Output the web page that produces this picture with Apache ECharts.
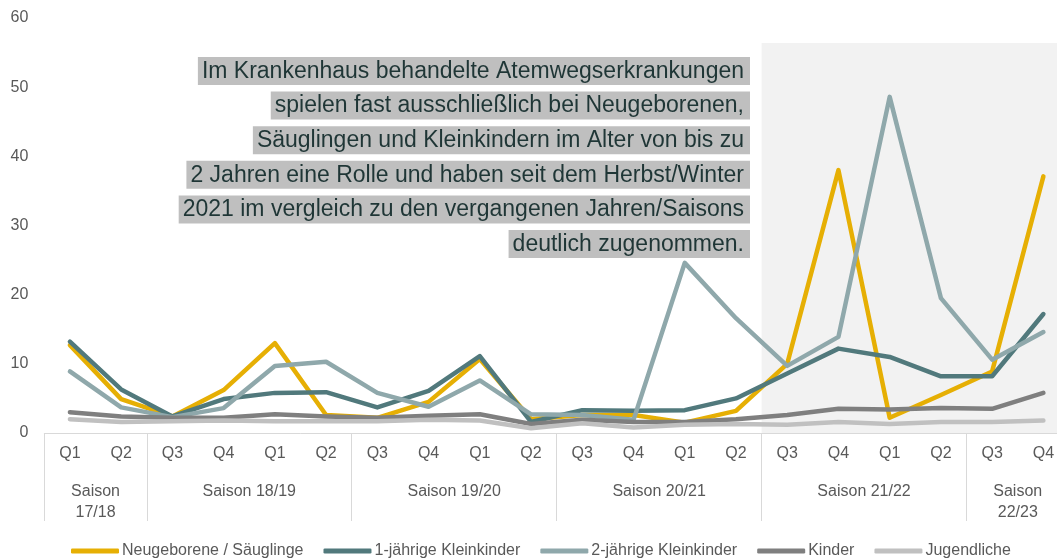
<!DOCTYPE html>
<html>
<head>
<meta charset="utf-8">
<script src="https://cdn.jsdelivr.net/npm/echarts@6/dist/echarts.min.js"></script>
<style>html,body{margin:0;padding:0;background:#fff;overflow:hidden}#c{width:1072px;height:560px}</style>
</head>
<body>
<div id="c"></div>
<script>
const quarters = ['Q1','Q2','Q3','Q4','Q1','Q2','Q3','Q4','Q1','Q2','Q3','Q4','Q1','Q2','Q3','Q4','Q1','Q2','Q3','Q4'];
// season label placed at the centre of its quarters (boundary index on a 0..20 scale)
const seasonPos = [1, 4, 8, 12, 16, 19];
const seasonNames = ['Saison\n17/18','Saison 18/19','Saison 19/20','Saison 20/21','Saison 21/22','Saison\n22/23'];
const seasonBounds = [0, 2, 6, 10, 14, 18];
const seriesNames = ['Neugeborene / Säuglinge','1-jährige Kleinkinder','2-jährige Kleinkinder','Kinder','Jugendliche'];
const neugeborene = [12.7, 4.9, 2.4, 6.2, 13.0, 2.6, 2.2, 4.5, 10.7, 2.0, 2.6, 2.6, 1.5, 3.2, 10.0, 38.0, 2.2, 5.5, 8.9, 37.1];
const einjaehrige = [13.2, 6.3, 2.4, 4.9, 5.8, 5.9, 3.7, 6.1, 11.1, 1.6, 3.3, 3.2, 3.3, 5.0, 8.6, 12.2, 11.0, 8.2, 8.2, 17.2];
const zweijaehrige = [8.9, 3.7, 2.3, 3.6, 9.7, 10.3, 5.8, 3.8, 7.6, 2.7, 2.6, 1.9, 24.6, 16.6, 9.7, 13.9, 48.6, 19.5, 10.6, 14.6];
const kinder = [3.0, 2.4, 2.2, 2.2, 2.7, 2.4, 2.2, 2.5, 2.7, 1.3, 1.9, 1.6, 1.6, 2.0, 2.6, 3.5, 3.4, 3.6, 3.5, 5.8];
const jugendliche = [2.0, 1.6, 1.7, 1.8, 1.7, 1.7, 1.7, 1.9, 1.8, 0.7, 1.4, 0.8, 1.2, 1.3, 1.2, 1.6, 1.3, 1.6, 1.6, 1.8];
const yTicks = [0, 10, 20, 30, 40, 50, 60];
const noteLines = [
  'Im Krankenhaus behandelte Atemwegserkrankungen',
  'spielen fast ausschließlich bei Neugeborenen,',
  'Säuglingen und Kleinkindern im Alter von bis zu',
  '2 Jahren eine Rolle und haben seit dem Herbst/Winter',
  '2021 im vergleich zu den vergangenen Jahren/Saisons',
  'deutlich zugenommen.'
];
const shadeFrom = 14, shadeTo = 20, shadeTop = 56.4;

const colors = ['#E6AF04', '#51797C', '#8FA8AB', '#7F7F7F', '#C0C0C0'];
const font = "'Liberation Sans', Arial, sans-serif";
const allData = [neugeborene, einjaehrige, zweijaehrige, kinder, jugendliche];
const W = 1072;

const chart = echarts.init(document.getElementById('c'), null, {renderer: 'canvas'});
const series = [{
  type: 'line', xAxisIndex: 1, yAxisIndex: 0, data: [], silent: true,
  markArea: {
    silent: true,
    itemStyle: {color: '#F2F2F2'},
    data: [[{coord: [shadeFrom, 0]}, {coord: [shadeTo, shadeTop]}]]
  }
}];
seriesNames.forEach((n, i) => {
  series.push({
    name: n, type: 'line', xAxisIndex: 0, data: allData[i],
    showSymbol: false, symbol: 'none',
    lineStyle: {color: colors[i], width: 4.5, cap: 'round', join: 'round'},
    itemStyle: {color: colors[i]},
    emphasis: {disabled: true}
  });
});

const graphics = noteLines.map((t, i) => ({
  type: 'text',
  right: W - 750,
  top: 57 + i * 34.6,
  style: {
    text: t, fill: '#1F3636', font: '23px ' + font,
    backgroundColor: '#BFBFBF', padding: [3, 6, 2, 4]
  },
  z: 10
}));

chart.setOption({
  animation: false,
  color: colors,
  grid: {left: 44.3, right: W - 1071.7, top: 18, bottom: 127, containLabel: false},
  xAxis: [{
    type: 'category', data: quarters, boundaryGap: true,
    axisLine: {lineStyle: {color: '#D9D9D9', width: 1}},
    axisTick: {show: true, length: 88, lineStyle: {color: '#D9D9D9', width: 1},
      interval: function (idx) { return seasonBounds.indexOf(idx) >= 0; }},
    axisLabel: {interval: 0, color: '#595959', fontSize: 16, fontFamily: font, margin: 13}
  }, {
    type: 'value', min: 0, max: 20, interval: 1, position: 'bottom',
    axisLine: {show: false}, axisTick: {show: false}, splitLine: {show: false},
    axisLabel: {
      color: '#595959', fontSize: 16, fontFamily: font, margin: 48, lineHeight: 21,
      showMinLabel: true, showMaxLabel: true,
      formatter: function (v) { const k = seasonPos.indexOf(v); return k >= 0 ? seasonNames[k] : ''; }
    }
  }],
  yAxis: {
    type: 'value', min: yTicks[0], max: yTicks[yTicks.length - 1], interval: 10,
    axisLine: {show: false}, axisTick: {show: false}, splitLine: {show: false},
    axisLabel: {color: '#595959', fontSize: 16, fontFamily: font, margin: 16}
  },
  legend: {
    data: seriesNames, top: 538, left: 66,
    icon: 'roundRect', itemWidth: 48, itemHeight: 5, itemGap: 20,
    textStyle: {color: '#595959', fontSize: 16, fontFamily: font, padding: [0, 0, 0, -2]},
    selectedMode: false
  },
  graphic: graphics,
  series: series
});
</script>
</body>
</html>
